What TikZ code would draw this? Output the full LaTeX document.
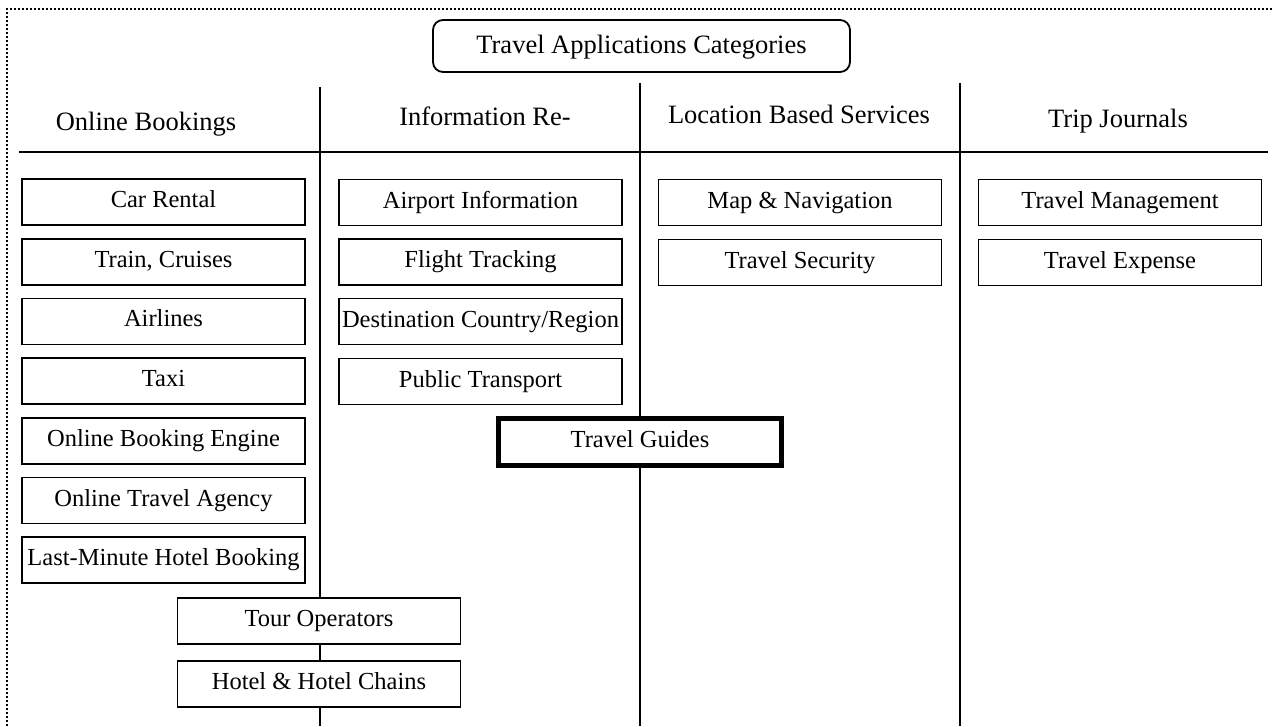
\documentclass[tikz,border=0pt]{standalone}
\usepackage{fontspec}
\setmainfont{Liberation Serif}
\begin{document}
\begin{tikzpicture}[x=1pt,y=-1pt,
  item/.style={draw, fill=white, line width=1.8pt, minimum width=283pt,
    minimum height=46pt, inner sep=0pt,
    font=\fontsize{24.5}{28}\selectfont, text height=17pt, text depth=6pt},
  keyitem/.style={item, line width=5pt, minimum width=283pt, minimum height=47pt},
  head/.style={inner sep=0pt, anchor=base, font=\fontsize{26.5}{30}\selectfont},
  titlebox/.style={draw, fill=white, line width=1.8pt, rounded corners=10pt,
    minimum width=417pt, minimum height=52pt, inner sep=0pt,
    font=\fontsize{26.5}{30}\selectfont, text height=18.5pt, text depth=4.5pt},
  rule/.style={line width=1.8pt},
  frame/.style={line width=2pt, dash pattern=on 2pt off 2pt}
]
\useasboundingbox (0,0) rectangle (1273,726);

% dotted outer frame (left and top edges)
\coordinate (fbl) at (7,726);
\coordinate (ftl) at (7,9);
\coordinate (ftr) at (1273,9);
\draw[frame] (fbl) -- (ftl) -- (ftr);

% column dividers and header rule
\coordinate (r1) at (19,152);
\coordinate (r2) at (1268,152);
\draw[rule] (r1) -- (r2);
\coordinate (v1t) at (320,87);  \coordinate (v1b) at (320,726);
\coordinate (v2t) at (640,83);  \coordinate (v2b) at (640,726);
\coordinate (v3t) at (960,83);  \coordinate (v3b) at (960,726);
\draw[rule] (v1t) -- (v1b);
\draw[rule] (v2t) -- (v2b);
\draw[rule] (v3t) -- (v3b);

% title
\node[titlebox] (title) at (641.5,46) {Travel Applications Categories};

% column headings
\node[head] (h1) at (146,130) {Online Bookings};
\node[head] (h2) at (485,125) {Information Re-};
\node[head] (h3) at (799,123) {Location Based Services};
\node[head] (h4) at (1118,127) {Trip Journals};

% online bookings
\node[item] (carrental) at (163.5,202)   {Car Rental};
\node[item] (train)     at (163.5,261.7) {Train, Cruises};
\node[item] (airlines)  at (163.5,321.4) {Airlines};
\node[item] (taxi)      at (163.5,381.1) {Taxi};
\node[item] (engine)    at (163.5,440.8) {Online Booking Engine};
\node[item] (agency)    at (163.5,500.5) {Online Travel Agency};
\node[item] (lastmin)   at (163.5,560.2) {Last-Minute Hotel Booking};

% information resources
\node[item] (airport)   at (480.5,202.5) {Airport Information};
\node[item] (flight)    at (480.5,262)   {Flight Tracking};
\node[item] (dest)      at (480.5,321.5) {Destination Country/Region};
\node[item] (public)    at (480.5,381.5) {Public Transport};

% location based services
\node[item] (map)       at (800,202.5) {Map \& Navigation};
\node[item] (security)  at (800,262.5) {Travel Security};

% trip journals
\node[item] (manage)    at (1120,202.5) {Travel Management};
\node[item] (expense)   at (1120,262.5) {Travel Expense};

% items spanning two columns
\node[keyitem] (guides) at (640,442) {Travel Guides};
\node[item] (tour)      at (319,621) {Tour Operators};
\node[item] (hotel)     at (319,684) {Hotel \& Hotel Chains};
\end{tikzpicture}
\end{document}
